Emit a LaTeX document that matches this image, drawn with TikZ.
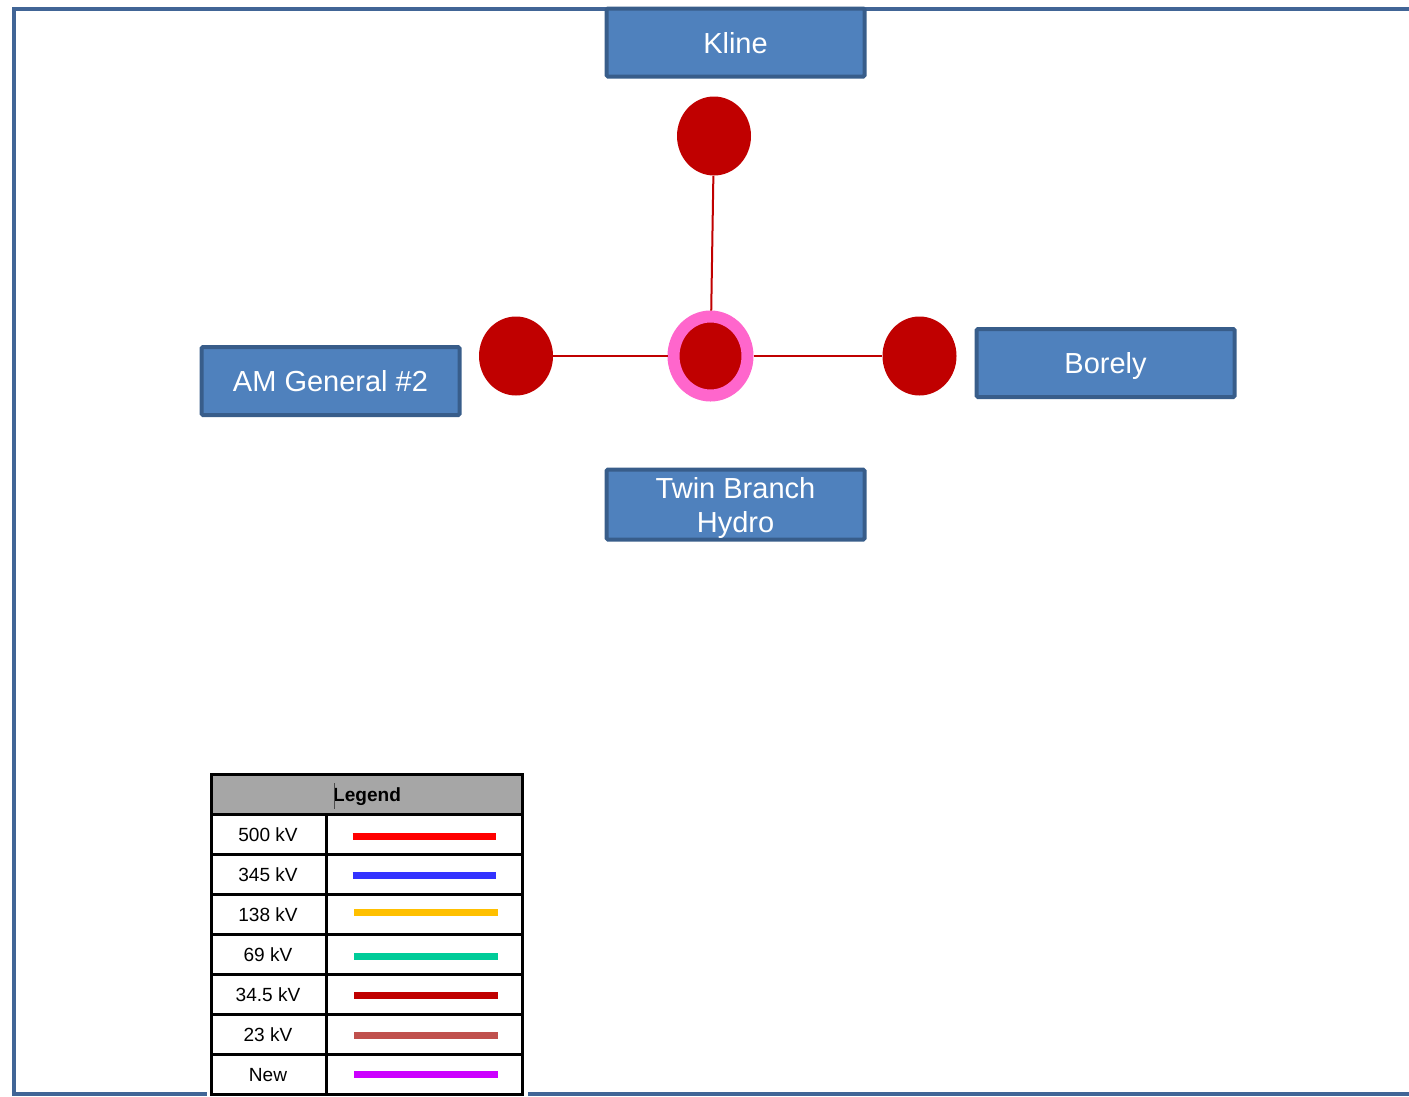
\documentclass[tikz,border=0pt]{standalone}
\usepackage{fontspec}
\setmainfont{Liberation Sans}
\usetikzlibrary{shapes.geometric}
\newdimen\pxu \pxu=0.75pt
\definecolor{frameblue}{RGB}{65,101,150}
\definecolor{boxfill}{RGB}{79,129,189}
\definecolor{boxline}{RGB}{56,93,138}
\definecolor{busred}{RGB}{192,0,0}
\definecolor{ringpink}{RGB}{255,102,204}
\definecolor{hdrgray}{RGB}{166,166,166}
\definecolor{kvfive}{RGB}{255,0,0}
\definecolor{kvthree}{RGB}{51,51,255}
\definecolor{kvone}{RGB}{255,192,0}
\definecolor{kvsixty}{RGB}{0,204,153}
\definecolor{kvthirty}{RGB}{192,0,0}
\definecolor{kvtwenty}{RGB}{192,80,77}
\definecolor{kvnew}{RGB}{204,0,255}
\begin{document}
\begin{tikzpicture}[x=0.75pt,y=-0.75pt,
  station/.style={draw=boxline, fill=boxfill, line width=4\pxu, rounded corners=1pt,
    minimum width=258\pxu, minimum height=68\pxu, inner sep=0pt, text=white,
    font=\fontsize{21.75}{25.5}\selectfont, align=center, text depth=0pt},
  bus/.style={ellipse, fill=busred, minimum width=74\pxu, minimum height=79\pxu, inner sep=0pt},
  hub/.style={ellipse, fill=busred, draw=ringpink, line width=12\pxu, minimum width=74\pxu, minimum height=79\pxu, inner sep=0pt},
  tie/.style={draw=busred, line width=2\pxu},
  cell/.style={font=\fontsize{14.3}{16}\selectfont, inner sep=0pt},
  grid/.style={draw=black, line width=3\pxu},
  kv/.style={line width=7\pxu}
]
\useasboundingbox (0,0) rectangle (1409,1096);
\clip (0,0) rectangle (1409,1096);
% frame
\draw[frameblue, line width=4\pxu] (14,8.5) rectangle (1440,1094);

% stations
\node[station] (kline) at (735.5,42.5) {Kline};
\node[station] (amg) at (330.5,381) {AM General \#2};
\node[station] (borely) at (1105.5,363) {Borely};
\node[station, minimum height=70\pxu] (twin) at (735.5,504.5) {Twin Branch\\Hydro};

% buses
\node[bus] (bk) at (714,136) {};
\node[bus] (bl) at (516,356) {};
\node[bus] (br) at (919.5,356) {};
\node[hub] (hub) at (710.5,356) {};
\draw[tie] (bk) -- (hub);
\draw[tie] (bl) -- (hub);
\draw[tie] (hub) -- (br);

% legend
\fill[white] (207,768) rectangle (528,1096);
\fill[hdrgray] (211,774) rectangle (522,814);
\draw[grid] (211,774) rectangle (522,1094);
\foreach \yy in {814,854,894,934,974,1014,1054} \draw[grid] (211,\yy) -- (522,\yy);
\draw[grid] (326,814) -- (326,1094);
\node[cell, font=\bfseries\fontsize{14.3}{16}\selectfont] (lgd) at (367,796.5) {Legend};
\draw[black!70, line width=1\pxu] (334.5,783) -- (334.5,809);

\node[cell] (l1) at (268,835) {500 kV};
\node[cell] (l2) at (268,875) {345 kV};
\node[cell] (l3) at (268,915) {138 kV};
\node[cell] (l4) at (268,955) {69 kV};
\node[cell] (l5) at (268,995) {34.5 kV};
\node[cell] (l6) at (268,1035) {23 kV};
\node[cell] (l7) at (268,1075) {New};

\draw[kv, kvfive] (352.5,836) -- (495.5,836);
\draw[kv, kvthree] (352.5,875.5) -- (495.5,875.5);
\draw[kv, kvone] (354,912.5) -- (498,912.5);
\draw[kv, kvsixty] (354,956) -- (498,956);
\draw[kv, kvthirty] (354,995.5) -- (498,995.5);
\draw[kv, kvtwenty] (354,1035) -- (498,1035);
\draw[kv, kvnew] (354,1074) -- (498,1074);
\end{tikzpicture}
\end{document}
